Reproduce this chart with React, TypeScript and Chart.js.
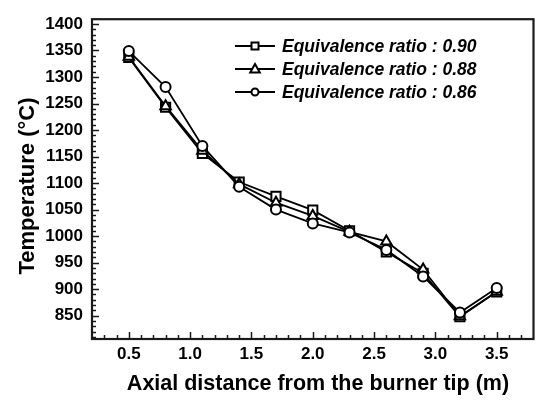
import React, { useEffect, useRef } from "react";
import { Chart, registerables } from "chart.js";

Chart.register(...registerables);

const distances = [0.5, 0.8, 1.1, 1.4, 1.7, 2.0, 2.3, 2.6, 2.9, 3.2, 3.5];
const ratio090 = [1337, 1243, 1156, 1102, 1075, 1049, 1010, 970, 930, 848, 895];
const ratio088 = [1338, 1245, 1161, 1098, 1063, 1038, 1008, 990, 937, 849, 895];
const ratio086 = [1349, 1281, 1170, 1093, 1050, 1024, 1007, 974, 924, 856, 902];
const seriesLabels = [
  "Equivalence ratio : 0.90",
  "Equivalence ratio : 0.88",
  "Equivalence ratio : 0.86",
];
const xTicks = [0.5, 1.0, 1.5, 2.0, 2.5, 3.0, 3.5];
const yTicks = [850, 900, 950, 1000, 1050, 1100, 1150, 1200, 1250, 1300, 1350, 1400];
const xTitle = "Axial distance from the burner tip (m)";
const yTitle = "Temperature (°C)";

const FONT = "'Liberation Sans', Arial, sans-serif";

const framePlugin = {
  id: "frameTicks",
  afterDatasetsDraw(chart: any) {
    const { ctx, chartArea } = chart;
    const { left, right, top, bottom } = chartArea;
    const xs = chart.scales.x;
    const ys = chart.scales.y;
    ctx.save();
    ctx.strokeStyle = "#1a1a1a";
    ctx.lineWidth = 1.5;
    for (let v = 810; v <= 1400; v += 10) {
      const y = Math.round(ys.getPixelForValue(v)) + 0.5;
      const len = v % 50 === 0 ? 7 : 4;
      ctx.beginPath();
      ctx.moveTo(left, y);
      ctx.lineTo(left + len, y);
      ctx.stroke();
    }
    for (let k = 3; k <= 37; k++) {
      const x = Math.round(xs.getPixelForValue(k / 10)) + 0.5;
      const len = k % 5 === 0 ? 7 : 4;
      ctx.beginPath();
      ctx.moveTo(x, bottom);
      ctx.lineTo(x, bottom - len);
      ctx.stroke();
    }
    ctx.lineWidth = 2.2;
    ctx.strokeRect(left, top, right - left, bottom - top);

    const markers = ["rect", "triangle", "circle"];
    for (let i = 0; i < 3; i++) {
      const y = 46 + i * 23;
      ctx.strokeStyle = "#000";
      ctx.lineWidth = 2;
      ctx.beginPath();
      ctx.moveTo(235, y);
      ctx.lineTo(275, y);
      ctx.stroke();
      ctx.fillStyle = "#fff";
      ctx.beginPath();
      const cx = 255;
      if (markers[i] === "rect") {
        ctx.rect(cx - 3.5, y - 3.5, 7, 7);
      } else if (markers[i] === "triangle") {
        ctx.moveTo(cx, y - 5);
        ctx.lineTo(cx + 4.8, y + 3.5);
        ctx.lineTo(cx - 4.8, y + 3.5);
        ctx.closePath();
      } else {
        ctx.arc(cx, y, 3.5, 0, Math.PI * 2);
      }
      ctx.fill();
      ctx.stroke();
      ctx.fillStyle = "#000";
      ctx.font = `italic bold 17.5px ${FONT}`;
      ctx.textAlign = "left";
      ctx.textBaseline = "middle";
      ctx.fillText(seriesLabels[i], 282, y + 1);
    }

    ctx.fillStyle = "#000";
    ctx.font = `bold 21.5px ${FONT}`;
    ctx.textAlign = "center";
    ctx.textBaseline = "middle";
    ctx.fillText(xTitle, 318, 384);
    ctx.save();
    ctx.translate(28, 186);
    ctx.rotate(-Math.PI / 2);
    ctx.font = `bold 22px ${FONT}`;
    ctx.fillText(yTitle, 0, 0);
    ctx.restore();
    ctx.restore();
  },
};

export default function App() {
  const ref = useRef<HTMLCanvasElement | null>(null);
  useEffect(() => {
    if (!ref.current) return;
    const common = {
      borderColor: "#000",
      borderWidth: 1.8,
      pointBackgroundColor: "#fff",
      pointBorderColor: "#000",
      pointBorderWidth: 2,
      fill: false,
      tension: 0,
    };
    const chart = new Chart(ref.current, {
      type: "line",
      data: {
        datasets: [
          {
            ...common,
            label: seriesLabels[0],
            data: distances.map((x, i) => ({ x, y: ratio090[i] })),
            pointStyle: "rect",
            pointRadius: 6.5,
            order: 2,
          },
          {
            ...common,
            label: seriesLabels[1],
            data: distances.map((x, i) => ({ x, y: ratio088[i] })),
            pointStyle: "triangle",
            pointRadius: 6,
            order: 1,
          },
          {
            ...common,
            label: seriesLabels[2],
            data: distances.map((x, i) => ({ x, y: ratio086[i] })),
            pointStyle: "circle",
            pointRadius: 5,
            order: 0,
          },
        ],
      },
      options: {
        responsive: false,
        animation: false,
        layout: { padding: { left: 0, right: 3, top: 11, bottom: 0 } },
        plugins: { legend: { display: false }, tooltip: { enabled: false } },
        scales: {
          x: {
            type: "linear",
            min: 0.2,
            max: 3.8,
            grid: { display: false, drawTicks: false },
            border: { display: false },
            ticks: {
              color: "#000",
              padding: 5,
              font: { family: FONT, size: 17, weight: "bold" },
              callback: (v: any) => Number(v).toFixed(1),
            },
            afterBuildTicks: (s: any) => {
              s.ticks = xTicks.map((v) => ({ value: v }));
            },
            afterFit: (s: any) => {
              s.height = 61;
            },
          },
          y: {
            type: "linear",
            min: 806,
            max: 1409,
            grid: { display: false, drawTicks: false },
            border: { display: false },
            ticks: {
              color: "#000",
              padding: 9,
              font: { family: FONT, size: 17, weight: "bold" },
              callback: (v: any) => String(v),
            },
            afterBuildTicks: (s: any) => {
              s.ticks = yTicks.map((v) => ({ value: v }));
            },
            afterFit: (s: any) => {
              s.width = 92;
            },
          },
        },
      },
      plugins: [framePlugin],
    });
    return () => chart.destroy();
  }, []);
  return (
    <div style={{ position: "fixed", left: 0, top: 0, width: 542, height: 400, background: "#fff" }}>
      <canvas ref={ref} width={542} height={400} style={{ width: 542, height: 400 }} />
    </div>
  );
}
